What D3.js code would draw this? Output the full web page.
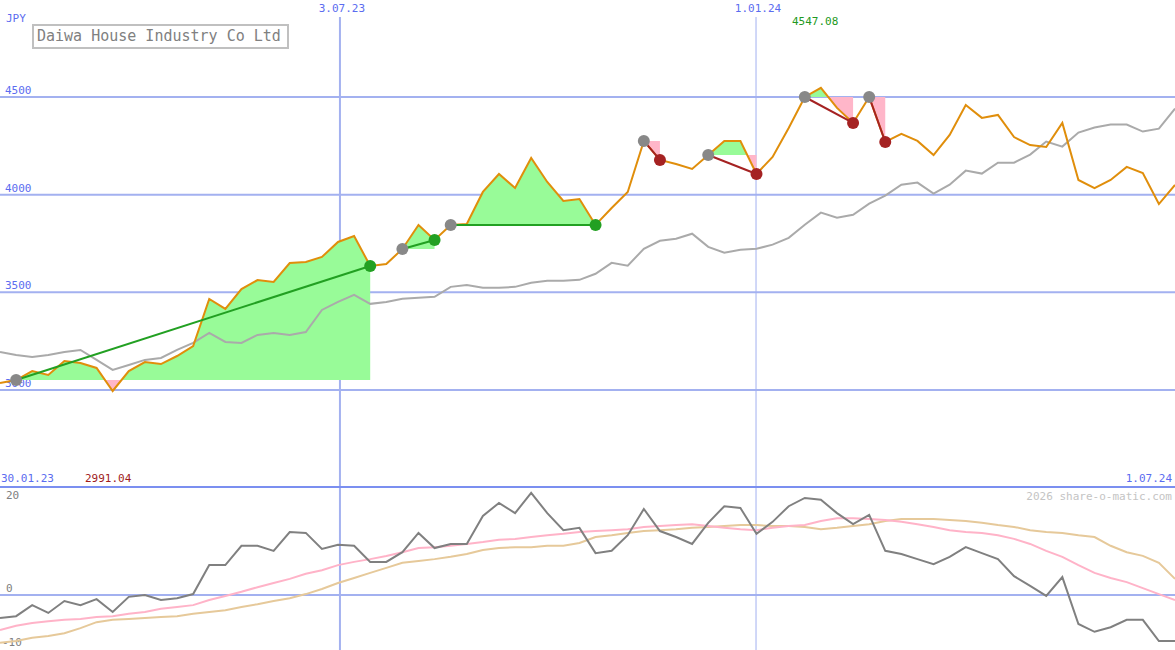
<!DOCTYPE html>
<html><head><meta charset="utf-8">
<script src="https://cdn.jsdelivr.net/npm/d3@7"></script>
<style>body{margin:0;background:#fff}svg{display:block}text{font-family:"DejaVu Sans Mono",monospace}</style>
</head><body><svg id="c" width="1175" height="650"></svg>
<script>
const price=[3036,3051,3097,3077,3148,3138,3113,2995,3097,3143,3133,3174,3225,3466,3415,3517,3563,3553,3650,3655,3681,3758,3788,3635,3645,3722,3845,3768,3845,3850,4014,4106,4034,4188,4065,3968,3978,3845,3932,4014,4275,4178,4157,4132,4203,4275,4275,4106,4193,4341,4500,4547,4444,4367,4500,4270,4311,4275,4203,4306,4459,4393,4408,4295,4254,4244,4367,4075,4034,4075,4142,4111,3952,4050];
const avg=[3195,3179,3169,3179,3195,3205,3154,3103,3128,3154,3164,3205,3241,3292,3246,3241,3282,3292,3282,3297,3410,3451,3487,3441,3451,3467,3472,3477,3528,3538,3523,3523,3528,3549,3559,3559,3564,3595,3651,3636,3723,3764,3774,3800,3733,3703,3718,3723,3744,3779,3846,3908,3882,3897,3954,3995,4051,4062,4005,4051,4123,4108,4164,4164,4205,4272,4246,4318,4344,4359,4359,4323,4338,4441];
const osc=[-5.0,-4.6,-2.2,-3.9,-1.3,-2.2,-0.9,-3.7,-0.4,0,-1.1,-0.7,0.2,6.5,6.5,10.7,10.7,9.6,13.7,13.5,10.0,10.9,10.7,7.2,7.2,9.3,13.5,10.2,11.1,11.1,17.2,20.0,17.8,22.2,17.8,14.1,14.6,9.1,9.6,13.0,18.7,13.9,12.6,11.1,15.7,19.3,18.9,13.3,15.9,19.3,21.1,20.7,17.8,15.4,17.4,9.6,8.9,7.8,6.7,8.3,10.4,9.1,7.8,4.1,2.0,-0.2,3.9,-6.3,-8.0,-7.0,-5.4,-5.4,-10.0,-10.0];
const oscFast=[-7.6,-6.7,-6.1,-5.7,-5.4,-5.2,-4.8,-4.6,-4.1,-3.7,-3.0,-2.6,-2.2,-1.1,-0.2,0.7,1.7,2.6,3.5,4.6,5.4,6.5,7.2,7.8,8.5,9.3,10.2,10.4,10.7,11.1,11.5,12.0,12.2,12.6,13.0,13.3,13.7,13.9,14.1,14.3,14.8,15.0,15.2,15.4,15.0,14.6,14.3,14.1,14.6,15.0,15.2,16.1,16.7,16.7,16.5,16.3,15.9,15.4,14.8,14.1,13.7,13.5,13.0,12.2,11.1,9.6,8.3,6.5,4.8,3.7,2.8,1.5,0.2,-1.1];
const oscSlow=[-10.4,-10.0,-9.3,-8.9,-8.3,-7.2,-5.9,-5.4,-5.2,-5.0,-4.8,-4.6,-4.1,-3.7,-3.3,-2.6,-2.0,-1.3,-0.7,0.2,1.3,2.6,3.7,4.8,5.9,7.0,7.4,7.8,8.3,8.9,9.8,10.2,10.4,10.4,10.7,10.7,11.3,12.6,13.0,13.5,13.9,14.1,14.3,14.6,14.8,15.0,15.2,15.2,15.0,15.0,14.8,14.3,14.6,15.0,15.4,16.1,16.5,16.5,16.5,16.3,16.1,15.7,15.2,14.8,14.1,13.7,13.5,13.0,12.6,10.7,9.3,8.5,7.0,3.5];
const tradeStart=[1,25,28,40,44,50,54];
const tradeEnd=[23,27,37,41,47,53,55];
const tradeWin=[true,true,true,false,false,false,false];
const priceTicks=[3000,3500,4000,4500];
const dateLabels=["3.07.23","1.01.24"];
const dateIdx=[21.12,46.97];
const firstDate="30.01.23", lastDate="1.07.24";

const svg=d3.select("#c");
const n=price.length;
const x=d3.scaleLinear().domain([0,n-1]).range([0,1175]);
const y=d3.scaleLinear().domain([3000,4500]).range([390,97]);
const yo=d3.scaleLinear().domain([0,20]).range([595,503]);
const blue="#a3b1f0", lbl="#5b6cf0";

priceTicks.forEach(t=>{
  svg.append("line").attr("x1",0).attr("x2",1175).attr("y1",y(t)).attr("y2",y(t)).attr("stroke",blue).attr("stroke-width",2);
  svg.append("text").attr("x",5).attr("y",y(t)-3).attr("fill",lbl).attr("font-size",11).text(t);
});
svg.append("line").attr("x1",0).attr("x2",1175).attr("y1",yo(0)).attr("y2",yo(0)).attr("stroke",blue).attr("stroke-width",2);
dateIdx.forEach((d,k)=>{
  svg.append("line").attr("x1",x(d)).attr("x2",x(d)).attr("y1",17).attr("y2",650).attr("stroke",blue).attr("stroke-width",k==0?2:1);
  svg.append("text").attr("x",x(d)+2).attr("y",12).attr("text-anchor","middle").attr("fill",lbl).attr("font-size",11).text(dateLabels[k]);
});
svg.append("line").attr("x1",0).attr("x2",1175).attr("y1",487).attr("y2",487).attr("stroke","#7b8ff0").attr("stroke-width",2);

const defs=svg.append("defs");
tradeStart.forEach((s,k)=>{
  const e=tradeEnd[k], base=y(price[s]);
  const idx=d3.range(s,e+1);
  const area=d3.area().x(i=>x(i)).y0(base).y1(i=>y(price[i]));
  defs.append("clipPath").attr("id","ca"+k).append("rect").attr("x",0).attr("y",0).attr("width",1175).attr("height",base);
  defs.append("clipPath").attr("id","cb"+k).append("rect").attr("x",0).attr("y",base).attr("width",1175).attr("height",490-base);
  svg.append("path").attr("d",area(idx)).attr("fill","#98fb98").attr("clip-path",`url(#ca${k})`);
  svg.append("path").attr("d",area(idx)).attr("fill","#ffb6c9").attr("clip-path",`url(#cb${k})`);
});

const line=(arr,sc)=>d3.line().x((d,i)=>x(i)).y(d=>sc(d))(arr);
svg.append("path").attr("d",line(avg,y)).attr("fill","none").attr("stroke","#aaaaaa").attr("stroke-width",2);
svg.append("path").attr("d",line(price,y)).attr("fill","none").attr("stroke","#e08e0b").attr("stroke-width",2);

tradeStart.forEach((s,k)=>{
  const e=tradeEnd[k], c=tradeWin[k]?"#22a022":"#a52222";
  svg.append("line").attr("x1",x(s)).attr("y1",y(price[s])).attr("x2",x(e)).attr("y2",y(price[e])).attr("stroke",c).attr("stroke-width",2);
  svg.append("circle").attr("cx",x(s)).attr("cy",y(price[s])).attr("r",6).attr("fill","#888");
  svg.append("circle").attr("cx",x(e)).attr("cy",y(price[e])).attr("r",6).attr("fill",c);
});

svg.append("text").attr("x",6).attr("y",22).attr("fill",lbl).attr("font-size",11).text("JPY");
svg.append("rect").attr("x",33).attr("y",25).attr("width",255).attr("height",23).attr("fill","#fff").attr("stroke","#c0c0c0").attr("stroke-width",2);
svg.append("text").attr("x",37).attr("y",41).attr("fill","#808080").attr("font-size",15).text("Daiwa House Industry Co Ltd");
svg.append("text").attr("x",792).attr("y",25).attr("fill","#229922").attr("font-size",11).text(d3.max(price).toFixed(2).replace("4547.00","4547.08"));
svg.append("text").attr("x",85).attr("y",482).attr("fill","#a01c1c").attr("font-size",11).text("2991.04");
svg.append("text").attr("x",1).attr("y",482).attr("fill",lbl).attr("font-size",11).text(firstDate);
svg.append("text").attr("x",1172).attr("y",482).attr("text-anchor","end").attr("fill",lbl).attr("font-size",11).text(lastDate);
svg.append("text").attr("x",1172).attr("y",500).attr("text-anchor","end").attr("fill","#c4c4c4").attr("font-size",11).text("2026 share-o-matic.com");
[[20,499],[0,592],[-10,646]].forEach(([v,yy])=>svg.append("text").attr("x",v<0?2:6).attr("y",yy).attr("fill","#808080").attr("font-size",11).text(v));

svg.append("path").attr("d",line(oscSlow,yo)).attr("fill","none").attr("stroke","#e6c99a").attr("stroke-width",2);
svg.append("path").attr("d",line(oscFast,yo)).attr("fill","none").attr("stroke","#ffb3c8").attr("stroke-width",2);
svg.append("path").attr("d",line(osc,yo)).attr("fill","none").attr("stroke","#808080").attr("stroke-width",2);
</script></body></html>
